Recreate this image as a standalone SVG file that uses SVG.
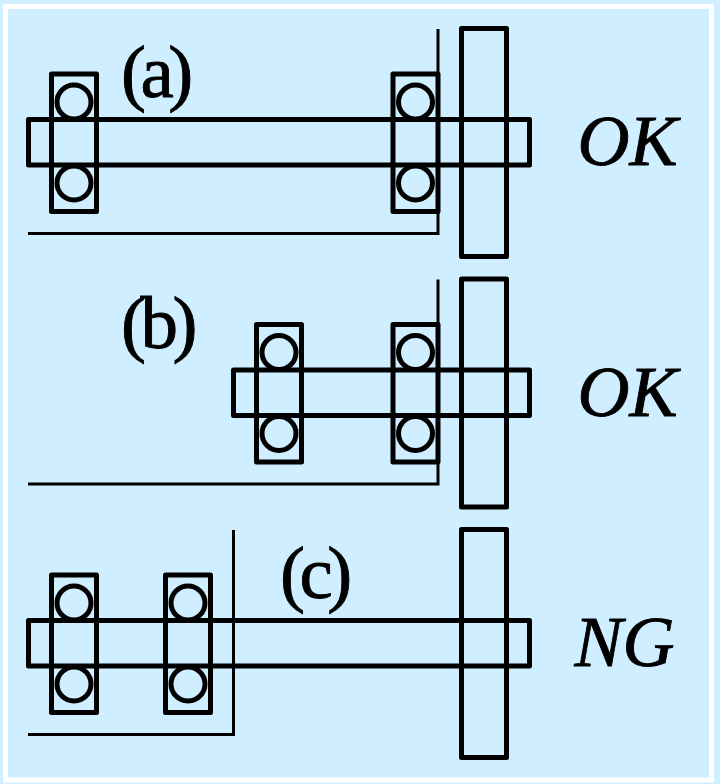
<svg xmlns="http://www.w3.org/2000/svg" width="720" height="784" viewBox="0 0 720 784">
<style>
.s{fill:none;stroke:#000;stroke-width:5;stroke-linejoin:round}
.t{fill:none;stroke:#000;stroke-width:3}
.l{font-family:"Liberation Serif","Times New Roman",serif;fill:#000;stroke:#000;stroke-width:.9}
.lab{font-size:75px;letter-spacing:-5.5px}
.st{font-size:72px;font-style:italic}
</style>
<defs>
<g id="bearing"><rect class="s" x="0" y="0" width="45" height="137.5"/><circle class="s" cx="22.5" cy="28" r="17"/><circle class="s" cx="22.5" cy="109" r="17"/></g>
</defs>
<rect width="720" height="784" fill="#CFEEFF"/>
<rect x="5.5" y="6.5" width="706" height="773.5" fill="#CFEEFF" stroke="#fff" stroke-width="5"/>
<g id="a">
<path class="t" d="M438 29V233.5H28"/>
<rect class="s" x="28.5" y="119.5" width="501" height="45.5"/>
<use href="#bearing" x="51.5" y="74"/><use href="#bearing" x="393" y="74"/>
<rect class="s" x="461.5" y="28.5" width="45" height="228"/>
<text class="l lab" x="121" y="97">(a)</text>
<text class="l st" x="577.5" y="165">OK</text>
</g>
<g id="b">
<path class="t" d="M438 279.5V484H28"/>
<rect class="s" x="233.5" y="370" width="296" height="45.5"/>
<use href="#bearing" x="256.5" y="324.5"/><use href="#bearing" x="393" y="324.5"/>
<rect class="s" x="461.5" y="279" width="45" height="228"/>
<text class="l lab" x="121" y="347.5">(b)</text>
<text class="l st" x="577.5" y="415.5">OK</text>
</g>
<g id="c">
<path class="t" d="M233.5 530V734.5H28"/>
<rect class="s" x="28.5" y="620.5" width="501" height="45.5"/>
<use href="#bearing" x="51.5" y="575"/><use href="#bearing" x="165.5" y="575"/>
<rect class="s" x="461.5" y="529.5" width="45" height="228"/>
<text class="l lab" x="280" y="598">(c)</text>
<text class="l st" x="574.5" y="666">NG</text>
</g>
</svg>
